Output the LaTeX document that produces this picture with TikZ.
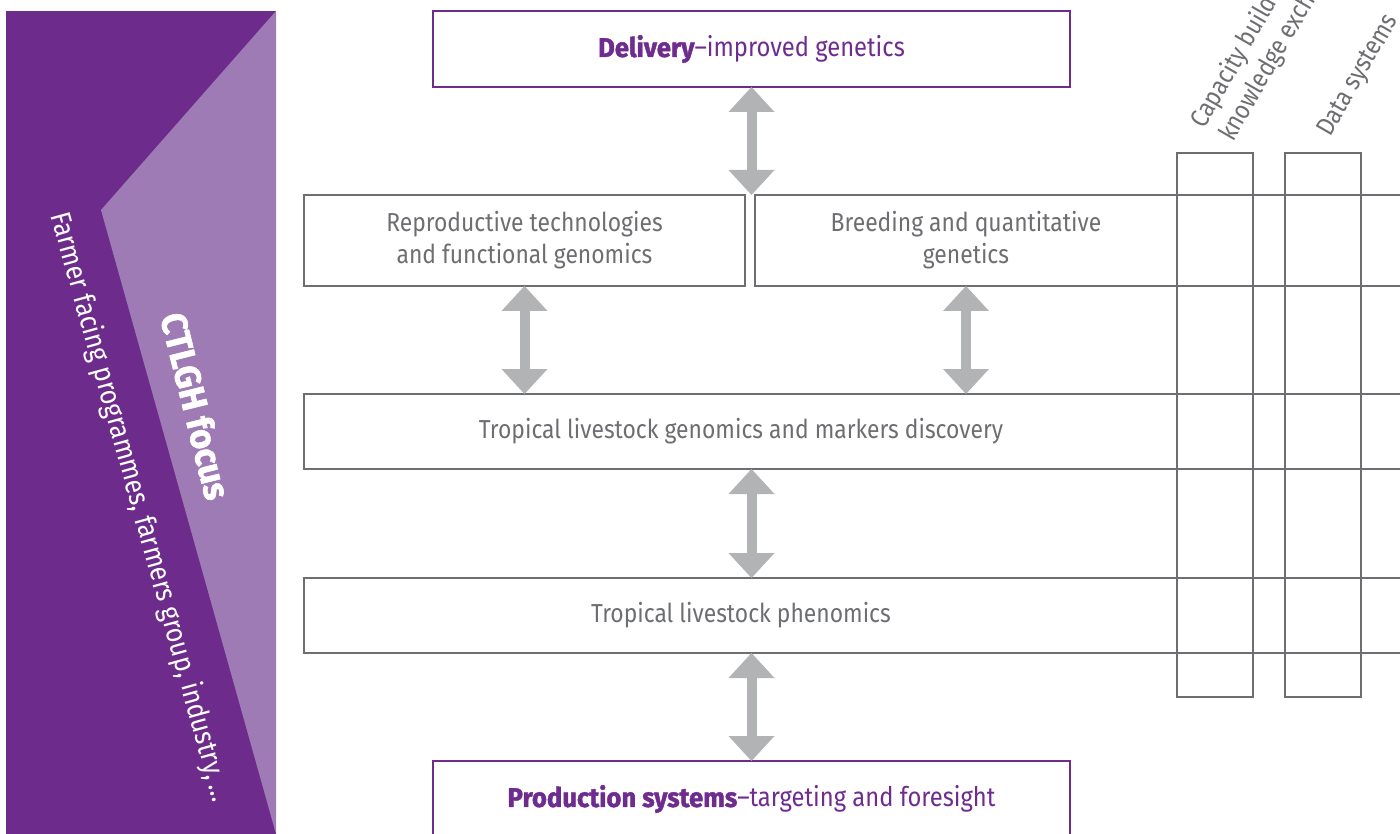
\documentclass[tikz,border=0pt]{standalone}
\usepackage{fontspec}
\setmainfont{Fira Sans}[FakeStretch=0.88, BoldFeatures={FakeBold=1.6, FakeStretch=0.95}]
\usetikzlibrary{arrows.meta,calc}
\definecolor{darkpurple}{HTML}{6D2B8B}
\definecolor{lightpurple}{HTML}{9F7BB5}
\definecolor{txtpurple}{HTML}{6F2C8F}
\definecolor{boxgray}{HTML}{6D6E71}
\definecolor{arrowgray}{HTML}{B2B3B5}
\tikzset{
  graybox/.style={draw=boxgray, line width=2pt, inner sep=0pt, outer sep=0pt, anchor=north west},
  purplebox/.style={draw=txtpurple, line width=2.5pt, inner sep=0pt, outer sep=0pt, anchor=north west,
    text=txtpurple, font=\fontsize{27}{32}\selectfont},
  boxtext/.style={text=boxgray, font=\fontsize{26}{32}\selectfont, align=center, inner sep=0pt},
  tiltlabel/.style={text=boxgray, font=\fontsize{26}{32}\selectfont, rotate=60, anchor=base west, inner sep=0pt},
  fatarrow/.style={draw=arrowgray, line width=10pt,
    {Triangle[width=46pt,length=25pt,line width=0pt]}-{Triangle[width=46pt,length=25pt,line width=0pt]}}
}
\begin{document}
\begin{tikzpicture}[x=1pt,y=-1pt]
\useasboundingbox (0,0) rectangle (1400,834);
\clip (0,0) rectangle (1400,834);
% left band
\fill[darkpurple] (6,11) rectangle (276,840);
\fill[lightpurple] (276,11) -- (101,210) -- (277.7,840) -- (276,840) -- cycle;
\node[rotate=-76, text=white, font=\bfseries\fontsize{36}{40}\selectfont, inner sep=0pt] (focus) at (196,406) {CTLGH focus};
\node[rotate=-74.5, text=white, font=\fontsize{28.5}{34}\selectfont, inner sep=0pt] (farmer) at (140,507) {Farmer facing programmes, farmers group, industry,\,…};
% boxes
\node[purplebox, minimum width=637pt, minimum height=76pt] (deliv) at (433,11) {{\bfseries Delivery}–improved genetics};
\node[graybox, boxtext, minimum width=441pt, minimum height=91pt] (repro) at (304,195) {Reproductive technologies\\and functional genomics};
\node[graybox, minimum width=700pt, minimum height=91pt] (breed) at (755,195) {};
\node[boxtext] (breedtxt) at (966,240.5) {Breeding and quantitative\\genetics};
\node[graybox, minimum width=1200pt, minimum height=75pt] (genom) at (304,394) {};
\node[boxtext] (genomtxt) at (741,431.5) {Tropical livestock genomics and markers discovery};
\node[graybox, minimum width=1200pt, minimum height=75pt] (phenom) at (304,578) {};
\node[boxtext] (phenomtxt) at (741,615.5) {Tropical livestock phenomics};
\node[purplebox, minimum width=637pt, minimum height=76pt] (prod) at (433,761) {{\bfseries Production systems}–targeting and foresight};
% columns
\node[graybox, minimum width=76pt, minimum height=544pt] (cap) at (1177,153) {};
\node[graybox, minimum width=76pt, minimum height=544pt] (data) at (1285,153) {};
\node[tiltlabel] (capa) at (1204,130) {Capacity building and};
\node[tiltlabel] (capb) at (1233,143) {knowledge exchange};
\node[tiltlabel] (datal) at (1330,138) {Data systems};
% arrows
\draw[fatarrow] (deliv.south) -- (deliv.south |- repro.north);
\draw[fatarrow] (repro.south) -- (repro.south |- genom.north);
\draw[fatarrow] (breedtxt |- breed.south) -- (breedtxt |- genom.north);
\draw[fatarrow] (deliv.south |- genom.south) -- (deliv.south |- phenom.north);
\draw[fatarrow] (deliv.south |- phenom.south) -- (prod.north);
\end{tikzpicture}
\end{document}
